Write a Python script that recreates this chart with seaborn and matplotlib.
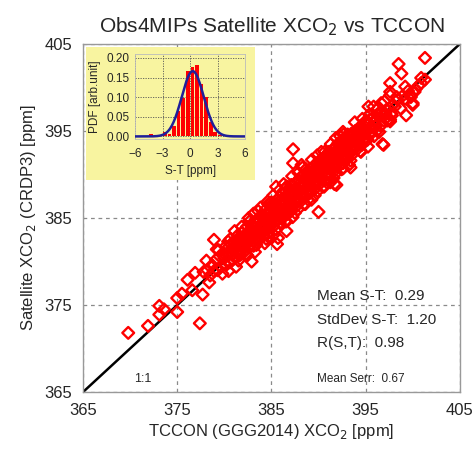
import numpy as np
import pandas as pd
import seaborn as sb
import matplotlib.pyplot as plt
from matplotlib.patches import Rectangle

# TCCON vs satellite XCO2 [ppm]
band_points = [
    (378.2, 379.0), (378.5, 378.4), (378.7, 379.6), (378.9, 378.9), (378.4, 377.6),
    (379.1, 380.2), (379.3, 379.0), (379.5, 380.6), (379.6, 379.4), (379.8, 378.6), (379.9, 381.0), (379.2, 381.4),
    (380.0, 380.4), (380.2, 379.6), (380.3, 381.5), (380.5, 380.8), (380.6, 379.9), (380.7, 382.0), (380.8, 381.1),
    (380.9, 380.2), (380.4, 382.3),
    (381.0, 381.6), (381.1, 380.5), (381.2, 382.4), (381.3, 381.0), (381.4, 383.0), (381.5, 381.9), (381.6, 380.7),
    (381.7, 382.6), (381.8, 381.3), (381.9, 383.3), (381.5, 380.1),
    (382.0, 382.0), (382.1, 383.6), (382.2, 381.2), (382.3, 382.8), (382.4, 384.0), (382.5, 382.3), (382.6, 381.6),
    (382.7, 383.3), (382.8, 382.6), (382.9, 384.3), (382.3, 380.9), (382.6, 385.0),
    (383.0, 383.0), (383.1, 381.8), (383.2, 384.0), (383.3, 382.6), (383.4, 383.6), (383.5, 384.8), (383.6, 382.4),
    (383.7, 383.9), (383.8, 385.2), (383.9, 383.1), (383.4, 381.9), (383.6, 385.8), (383.2, 383.3),
    (384.0, 384.3), (384.1, 382.9), (384.2, 385.3), (384.3, 383.8), (384.4, 386.0), (384.5, 384.6), (384.6, 383.2),
    (384.7, 385.5), (384.8, 384.1), (384.9, 386.4), (384.3, 384.9), (384.6, 386.9), (384.8, 382.7),
    (385.0, 385.0), (385.1, 383.9), (385.2, 386.2), (385.3, 384.5), (385.4, 385.7), (385.5, 387.0), (385.6, 384.8),
    (385.7, 386.4), (385.8, 385.3), (385.9, 387.4), (385.2, 387.6), (385.5, 383.7), (385.9, 384.4), (385.0, 386.8),
    (386.0, 386.0), (386.1, 384.9), (386.2, 387.2), (386.3, 385.6), (386.4, 386.7), (386.5, 388.0), (386.6, 385.4),
    (386.7, 387.3), (386.8, 386.2), (386.9, 388.4), (386.3, 388.9), (386.6, 384.6), (386.9, 385.8), (386.1, 387.8),
    (387.0, 387.0), (387.1, 385.9), (387.2, 388.2), (387.3, 386.5), (387.4, 387.7), (387.5, 389.0), (387.6, 386.3),
    (387.7, 388.4), (387.8, 387.1), (387.9, 389.4), (387.2, 389.8), (387.5, 385.6), (387.8, 386.0), (387.1, 388.8),
    (388.0, 388.1), (388.1, 386.9), (388.2, 389.2), (388.3, 387.5), (388.4, 388.7), (388.5, 390.0), (388.6, 387.4),
    (388.7, 389.4), (388.8, 388.1), (388.9, 390.4), (388.3, 390.8), (388.6, 386.6), (388.9, 387.1), (388.1, 389.7),
    (389.0, 389.1), (389.1, 387.9), (389.2, 390.2), (389.3, 388.5), (389.4, 389.7), (389.5, 391.0), (389.6, 388.3),
    (389.7, 390.4), (389.8, 389.0), (389.9, 391.3), (389.3, 391.7), (389.6, 387.6), (389.9, 388.1), (389.1, 390.6),
    (390.0, 390.2), (390.1, 388.9), (390.2, 391.2), (390.3, 389.5), (390.4, 390.7), (390.5, 391.9), (390.6, 389.3),
    (390.7, 391.4), (390.8, 390.0), (390.9, 392.3), (390.3, 392.6), (390.6, 388.6), (390.9, 389.1), (390.1, 391.6),
    (391.0, 391.2), (391.1, 389.9), (391.2, 392.2), (391.3, 390.5), (391.4, 391.7), (391.5, 392.9), (391.6, 390.3),
    (391.7, 392.4), (391.8, 391.0), (391.9, 393.2), (391.3, 393.5), (391.6, 389.6), (391.9, 390.2), (391.1, 392.6),
    (392.0, 392.2), (392.1, 390.9), (392.2, 393.1), (392.3, 391.5), (392.4, 392.7), (392.5, 393.8), (392.6, 391.3),
    (392.7, 393.3), (392.8, 392.0), (392.9, 394.1), (392.3, 394.4), (392.6, 390.7), (392.1, 393.6),
    (393.0, 393.2), (393.1, 391.9), (393.2, 394.0), (393.3, 392.5), (393.4, 393.6), (393.5, 394.7), (393.6, 392.3),
    (393.7, 394.2), (393.8, 393.0), (393.9, 395.0), (393.4, 391.6), (393.1, 394.6),
    (394.0, 394.2), (394.1, 392.9), (394.2, 395.0), (394.3, 393.5), (394.4, 394.5), (394.5, 395.6), (394.6, 393.4),
    (394.7, 395.1), (394.8, 394.0), (394.9, 396.0), (394.5, 392.6),
    (395.0, 395.1), (395.2, 394.0), (395.3, 396.0), (395.5, 394.6), (395.6, 395.5), (395.8, 396.6), (395.9, 394.4),
    (395.4, 396.9),
    (396.0, 396.1), (396.2, 395.0), (396.4, 396.8), (396.6, 395.6), (396.8, 397.2), (396.9, 396.2), (396.3, 397.6),
    (397.1, 397.0), (397.3, 396.2), (397.5, 397.6), (397.8, 396.8), (397.9, 398.0),
    (398.1, 397.8), (398.4, 398.6), (398.7, 397.6), (398.9, 399.0),
    (399.2, 398.7), (399.5, 399.6), (399.8, 398.9),
    (400.3, 399.8), (400.6, 400.2), (400.9, 401.1),
]

# second pass over the dense part of the band
band_points_2 = [
    (380.05, 379.7), (380.25, 380.9), (380.45, 378.9), (380.65, 382.6), (380.85, 380.8),
    (381.05, 382.3), (381.25, 379.4), (381.45, 382.4), (381.65, 381.0), (381.85, 384.0),
    (382.05, 381.6), (382.25, 382.9), (382.45, 380.7), (382.65, 384.6), (382.85, 382.8),
    (383.05, 384.2), (383.25, 381.1), (383.45, 384.3), (383.65, 383.0), (383.85, 386.2),
    (384.05, 383.6), (384.25, 384.9), (384.45, 382.6), (384.65, 386.6), (384.85, 384.7),
    (385.05, 386.3), (385.25, 383.1), (385.45, 386.3), (385.65, 385.0), (385.85, 388.2),
    (386.05, 385.6), (386.25, 386.9), (386.45, 384.6), (386.65, 388.6), (386.85, 386.7),
    (387.05, 388.2), (387.25, 385.1), (387.45, 388.3), (387.65, 387.0), (387.85, 390.2),
    (388.05, 387.6), (388.25, 388.8), (388.45, 386.6), (388.65, 390.6), (388.85, 388.7),
    (389.05, 390.2), (389.25, 387.1), (389.45, 390.3), (389.65, 389.0), (389.85, 392.2),
    (390.05, 389.6), (390.25, 390.9), (390.45, 388.6), (390.65, 392.6), (390.85, 390.7),
    (391.05, 392.2), (391.25, 389.1), (391.45, 392.3), (391.65, 391.0), (391.85, 394.2),
    (392.05, 391.6), (392.25, 392.8), (392.45, 390.6), (392.65, 394.6), (392.85, 392.7),
    (393.05, 394.2), (393.25, 391.1), (393.45, 394.3), (393.65, 393.0), (393.85, 396.0),
    (394.05, 393.6), (394.25, 394.9), (394.45, 392.7), (394.65, 396.4), (394.85, 394.7),
    (395.05, 396.2), (395.25, 393.2), (395.45, 396.3), (395.65, 395.0), (395.85, 397.8),
    (396.05, 395.6), (396.25, 396.9), (396.45, 394.9), (396.65, 398.2), (396.85, 396.7),
    (381.12, 381.5), (381.32, 381.0), (381.52, 382.4), (381.72, 380.8), (381.92, 382.1),
    (382.12, 382.5), (382.32, 382.0), (382.52, 383.4), (382.72, 381.8), (382.92, 383.1),
    (383.12, 383.5), (383.32, 383.0), (383.52, 384.4), (383.72, 382.8), (383.92, 384.1),
    (384.12, 384.5), (384.32, 384.0), (384.52, 385.4), (384.72, 383.8), (384.92, 385.1),
    (385.12, 385.5), (385.32, 385.0), (385.52, 386.4), (385.72, 384.8), (385.92, 386.1),
    (386.12, 386.5), (386.32, 386.0), (386.52, 387.4), (386.72, 385.8), (386.92, 387.1),
    (387.12, 387.5), (387.32, 387.0), (387.52, 388.4), (387.72, 386.8), (387.92, 388.1),
    (388.12, 388.5), (388.32, 388.0), (388.52, 389.4), (388.72, 387.8), (388.92, 389.1),
    (389.12, 389.5), (389.32, 389.0), (389.52, 390.4), (389.72, 388.8), (389.92, 390.1),
    (390.12, 390.5), (390.32, 390.0), (390.52, 391.4), (390.72, 389.8), (390.92, 391.1),
    (391.12, 391.5), (391.32, 391.0), (391.52, 392.4), (391.72, 390.8), (391.92, 392.1),
    (392.12, 392.5), (392.32, 392.0), (392.52, 393.4), (392.72, 391.8), (392.92, 393.1),
    (393.12, 393.5), (393.32, 393.0), (393.52, 394.4), (393.72, 392.8), (393.92, 394.1),
    (394.12, 394.5), (394.32, 394.0), (394.52, 395.4), (394.72, 393.8), (394.92, 395.1),
]

outlier_points = [
    (369.8, 371.8), (371.9, 372.6), (373.1, 374.9), (373.1, 373.9), (373.6, 374.5),
    (375.0, 374.2), (375.0, 375.8), (375.5, 376.3), (376.1, 377.9), (376.6, 376.7),
    (376.9, 378.7), (377.4, 372.9), (377.7, 376.2), (377.8, 378.8), (378.1, 380.1),
    (378.9, 382.5), (379.4, 381.3), (380.1, 381.7), (381.1, 383.5), (382.9, 380.0),
    (385.6, 382.0), (385.7, 382.7), (386.6, 383.5), (386.6, 388.6), (385.5, 388.6),
    (383.1, 385.5), (384.3, 382.1), (390.0, 385.7), (391.9, 388.8), (386.9, 385.6),
    (387.3, 392.9), (387.3, 391.3), (388.2, 391.1), (391.7, 388.9), (392.6, 394.9),
    (393.4, 390.8), (395.3, 397.8), (396.8, 393.5), (396.9, 393.4), (397.6, 396.1),
    (399.3, 396.8), (400.0, 398.0), (397.6, 399.5), (397.0, 398.4), (397.6, 399.1),
    (398.3, 398.9), (399.2, 400.1), (400.2, 399.5), (399.8, 399.1), (400.0, 398.2),
    (397.7, 397.0), (397.6, 396.3), (397.6, 400.5), (400.9, 400.5), (401.3, 400.9),
    (398.8, 401.6), (398.5, 402.7), (401.3, 403.4),
]

# histogram of S-T, fraction per 0.5 ppm bin
st_bin_edges = [-6.0, -5.5, -5.0, -4.5, -4.0, -3.5, -3.0, -2.5, -2.0, -1.5, -1.0, -0.5, 0.0,
                0.5, 1.0, 1.5, 2.0, 2.5, 3.0, 3.5, 4.0, 4.5, 5.0, 5.5, 6.0]
st_fraction = [0, 0, 0, 0.005, 0, 0.002, 0.010, 0.006, 0.027, 0.065, 0.098, 0.166,
               0.178, 0.182, 0.133, 0.100, 0.038, 0.012, 0.004, 0.002, 0.004, 0, 0, 0]

mean_st = 0.29
std_st = 1.20
r_st = 0.98
mean_serr = 0.67

ticks = [365, 375, 385, 395, 405]
lims = (365, 405)

pts = pd.DataFrame(band_points + band_points_2 + outlier_points, columns=["tccon", "sat"])
hist_df = pd.DataFrame({
    "st": [(a + b) / 2 for a, b in zip(st_bin_edges[:-1], st_bin_edges[1:])],
    "frac": st_fraction,
})

sb.set_style("white")
plt.rcParams["font.family"] = ["Liberation Sans", "DejaVu Sans"]

fig = plt.figure(figsize=(4.77, 4.58), dpi=100)
ax = fig.add_axes([0.174, 0.144, 0.790, 0.760])

ax.plot(lims, lims, color="black", lw=1.8, zorder=2)
sb.scatterplot(data=pts, x="tccon", y="sat", ax=ax, marker="D", s=36,
               facecolor="none", edgecolor="red", linewidth=1.7, zorder=3)

ax.set_xlim(lims)
ax.set_ylim(lims)
ax.set_xticks(ticks)
ax.set_yticks(ticks)
ax.tick_params(length=0, labelsize=12, pad=8)
ax.grid(True, color="#8a8a8a", ls=(0, (3, 3)), lw=0.9)
for s in ax.spines.values():
    s.set_color("#999999")
    s.set_linewidth(1.0)
ax.set_xlabel("TCCON (GGG2014) XCO$_2$ [ppm]", fontsize=12, labelpad=3)
ax.set_ylabel("Satellite XCO$_2$ (CRDP3) [ppm]", fontsize=12, labelpad=4)
ax.set_title("Obs4MIPs Satellite XCO$_2$ vs TCCON", fontsize=15, pad=8)

ax.text(0.135, 0.03, "1:1", transform=ax.transAxes, fontsize=9)
ax.text(0.622, 0.265, f"Mean S-T:  {mean_st:.2f}", transform=ax.transAxes, fontsize=11)
ax.text(0.622, 0.195, f"StdDev S-T:  {std_st:.2f}", transform=ax.transAxes, fontsize=11)
ax.text(0.622, 0.128, f"R(S,T):  {r_st:.2f}", transform=ax.transAxes, fontsize=11)
ax.text(0.622, 0.03, f"Mean Serr:  {mean_serr:.2f}", transform=ax.transAxes, fontsize=8.5)

# yellow inset box
fig.patches.append(Rectangle((0.180, 0.607), 0.354, 0.290, transform=fig.transFigure,
                             facecolor="#f8f4a0", edgecolor="none", zorder=5))
ins = fig.add_axes([0.283, 0.697, 0.231, 0.185], zorder=6)
ins.set_facecolor("#f8f4a0")
sb.histplot(data=hist_df, x="st", weights="frac", bins=st_bin_edges, shrink=0.8,
            color="red", edgecolor="none", alpha=1, ax=ins, zorder=2)
xs = np.linspace(-6, 6, 200)
ins.plot(xs, 0.5 * np.exp(-0.5 * ((xs - mean_st) / std_st) ** 2) / (std_st * np.sqrt(2 * np.pi)),
         color="#1f1f9a", lw=1.8, zorder=3)
ins.set_xlim(-6, 6)
ins.set_ylim(-0.006, 0.21)
ins.set_xticks([-6, -3, 0, 3, 6])
ins.set_yticks([0, 0.05, 0.10, 0.15, 0.20])
ins.set_yticklabels(["0.00", "0.05", "0.10", "0.15", "0.20"])
ins.tick_params(length=0, labelsize=8.5, pad=4)
ins.tick_params(axis="x", pad=7)
ins.grid(True, color="#555555", ls=(0, (1.5, 1.5)), lw=0.6)
ins.set_axisbelow(True)
for s in ins.spines.values():
    s.set_color("#bbbbbb")
    s.set_linewidth(0.6)
ins.set_xlabel("S-T [ppm]", fontsize=8.5, labelpad=3)
ins.set_ylabel("PDF [arb.unit]", fontsize=8.5, labelpad=4)

fig.savefig("out.png", dpi=100)
